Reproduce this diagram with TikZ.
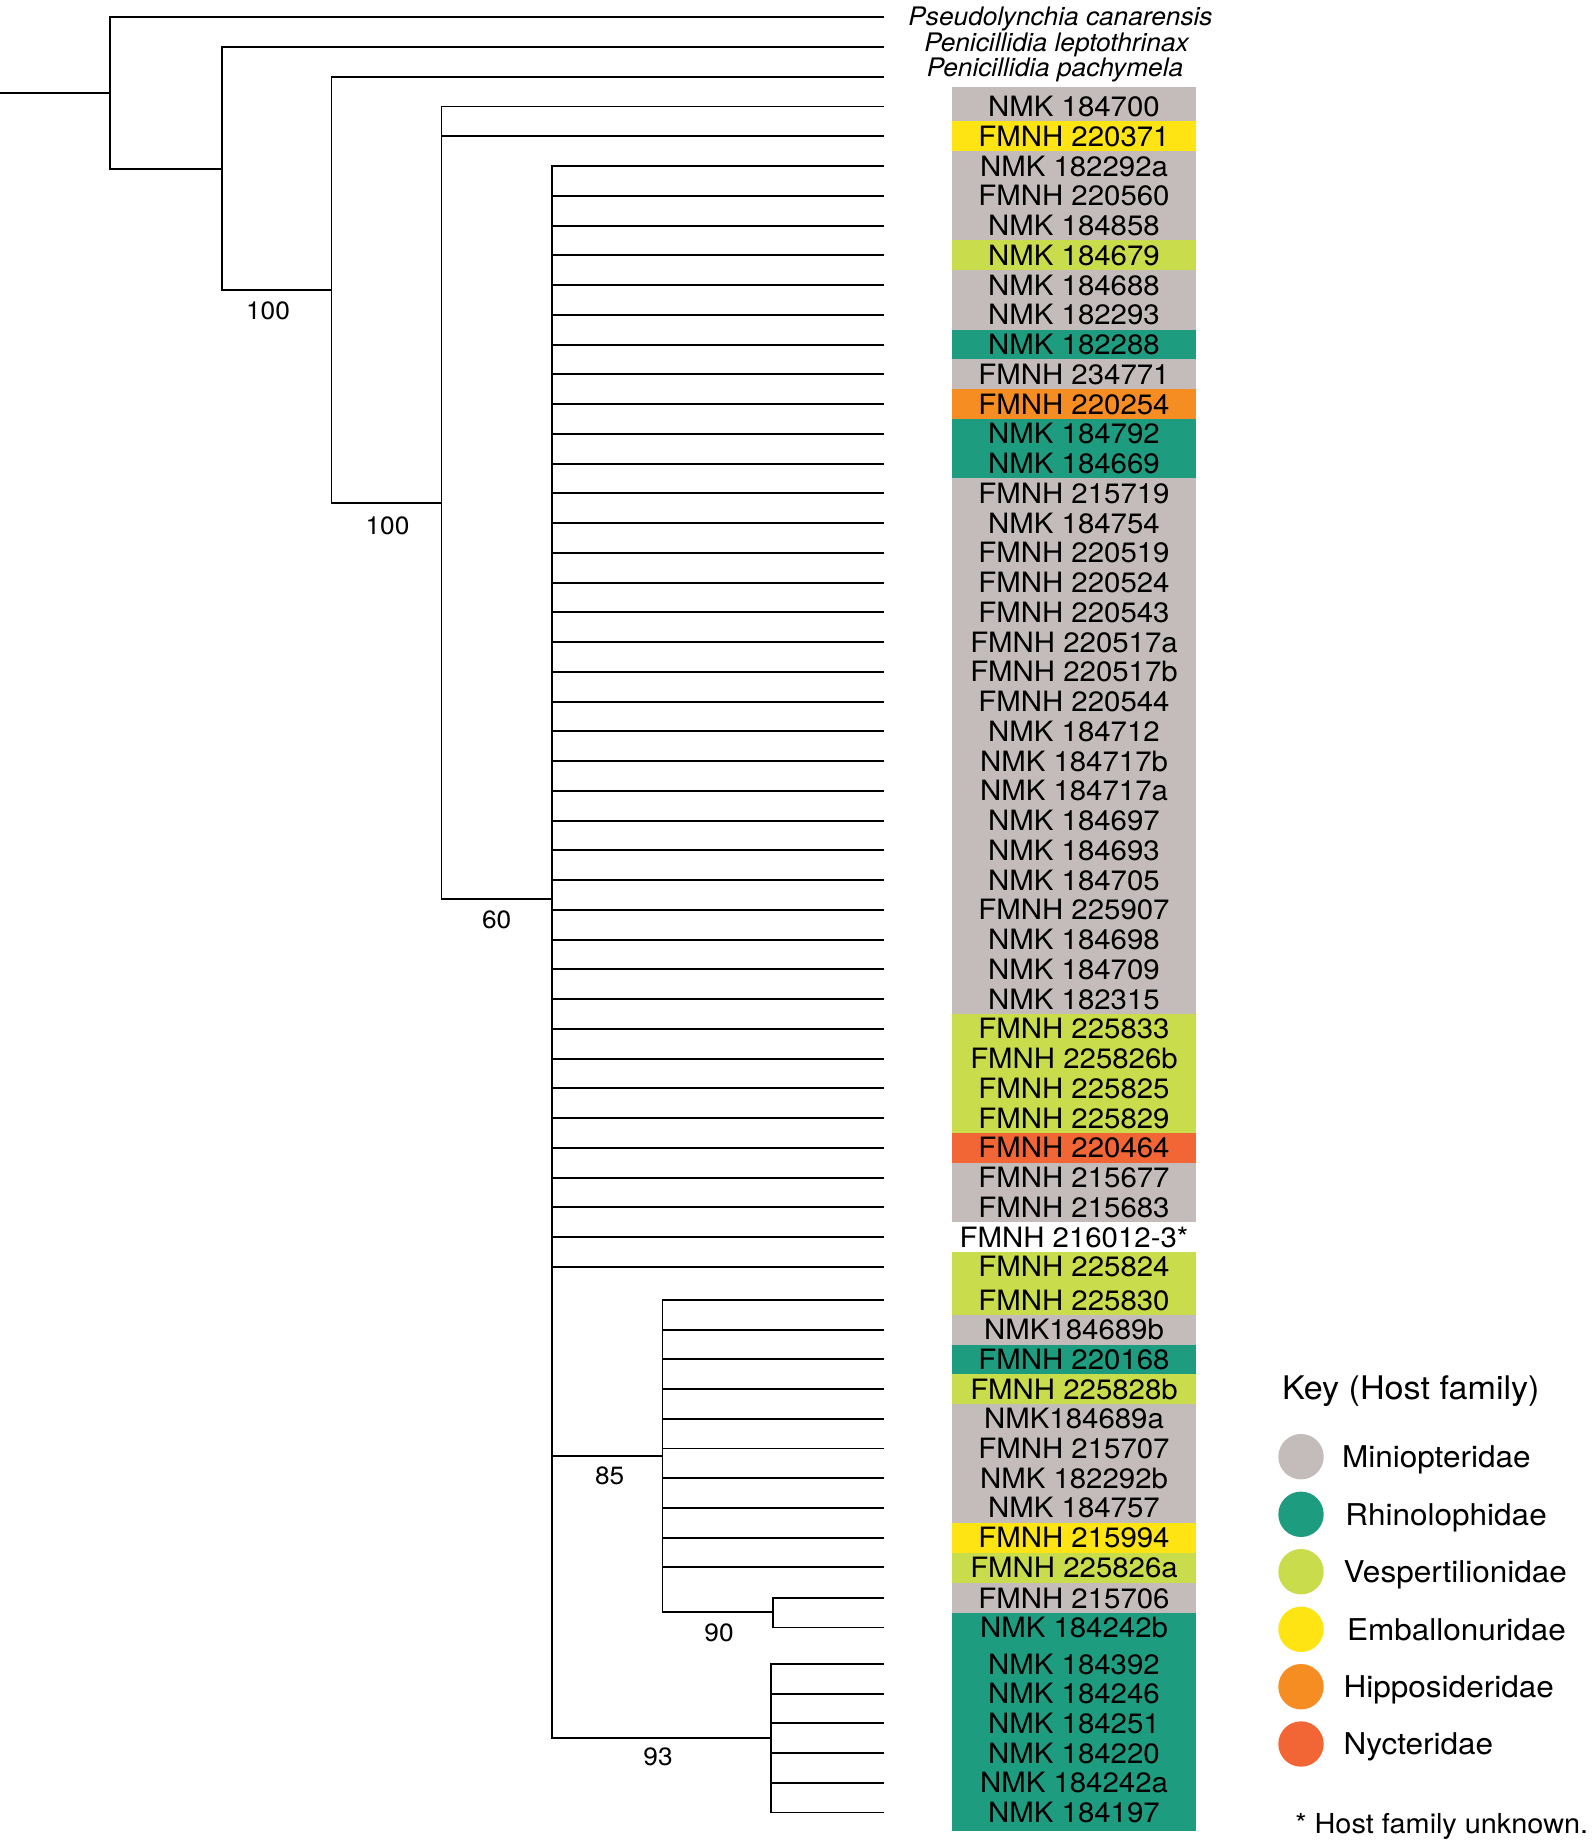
\documentclass[tikz,border=0pt]{standalone}
\usepackage{fontspec}
\setmainfont{TeX Gyre Heros}[FakeStretch=1.05]
\newfontfamily\spfont{TeX Gyre Heros}[FakeStretch=1.03]
\usetikzlibrary{calc}
\definecolor{cMin}{RGB}{195,188,186}
\definecolor{cRhi}{RGB}{29,156,128}
\definecolor{cVes}{RGB}{201,220,75}
\definecolor{cEmb}{RGB}{255,228,20}
\definecolor{cHip}{RGB}{246,141,34}
\definecolor{cNyc}{RGB}{242,102,54}
\begin{document}
\begin{tikzpicture}[x=0.5pt,y=-0.5pt,
  branch/.style={line width=0.95pt},
  tiplab/.style={anchor=base,inner sep=0pt,font=\fontsize{14}{16}\selectfont},
  splab/.style={anchor=base,inner sep=0pt,font=\spfont\itshape\fontsize{12.75}{14}\selectfont},
  boot/.style={anchor=center,inner sep=0pt,font=\fontsize{12.5}{14}\selectfont},
  keydot/.style={circle,inner sep=0pt,minimum size=22.7pt},
  keylab/.style={anchor=base west,inner sep=0pt,font=\fontsize{15}{17}\selectfont}]
\useasboundingbox (0,0) rectangle (1594,1841);
% colour boxes behind the tip labels
\fill[cMin] (952,87) rectangle (1196,121.4);
\fill[cEmb] (952,121.4) rectangle (1196,151.2);
\fill[cMin] (952,151.2) rectangle (1196,240.4);
\fill[cVes] (952,240.4) rectangle (1196,270.2);
\fill[cMin] (952,270.2) rectangle (1196,329.7);
\fill[cRhi] (952,329.7) rectangle (1196,359.4);
\fill[cMin] (952,359.4) rectangle (1196,389.2);
\fill[cHip] (952,389.2) rectangle (1196,418.9);
\fill[cRhi] (952,418.9) rectangle (1196,478.4);
\fill[cMin] (952,478.4) rectangle (1196,1013.9);
\fill[cVes] (952,1013.9) rectangle (1196,1132.9);
\fill[cNyc] (952,1132.9) rectangle (1196,1162.7);
\fill[cMin] (952,1162.7) rectangle (1196,1222.2);
\fill[cVes] (952,1251.9) rectangle (1196,1314.9);
\fill[cMin] (952,1314.9) rectangle (1196,1344.6);
\fill[cRhi] (952,1344.6) rectangle (1196,1374.3);
\fill[cVes] (952,1374.3) rectangle (1196,1404);
\fill[cMin] (952,1404) rectangle (1196,1522.8);
\fill[cEmb] (952,1522.8) rectangle (1196,1552.5);
\fill[cVes] (952,1552.5) rectangle (1196,1582.7);
\fill[cMin] (952,1582.7) rectangle (1196,1612.8);
\fill[cRhi] (952,1612.8) rectangle (1196,1831);
% outgroup tips
\coordinate (t1) at (884,17.3);
\coordinate (t2) at (884,47.3);
\coordinate (t3) at (884,77);
\node[splab] (l1) at (1060.5,26) {Pseudolynchia canarensis};
\node[splab] (l2) at (1056.5,51.7) {Penicillidia leptothrinax};
\node[splab] (l3) at (1055,77) {Penicillidia pachymela};
% ingroup tips
\foreach \i/\y/\t in {
 4/106.55/NMK 184700, 5/136.3/FMNH 220371, 6/166.05/NMK 182292a,
 7/195.8/FMNH 220560, 8/225.55/NMK 184858, 9/255.3/NMK 184679,
 10/285.05/NMK 184688, 11/314.8/NMK 182293, 12/344.55/NMK 182288,
 13/374.3/FMNH 234771, 14/404.05/FMNH 220254, 15/433.8/NMK 184792,
 16/463.55/NMK 184669, 17/493.3/FMNH 215719, 18/523.05/NMK 184754,
 19/552.8/FMNH 220519, 20/582.55/FMNH 220524, 21/612.3/FMNH 220543,
 22/642.05/FMNH 220517a, 23/671.8/FMNH 220517b, 24/701.55/FMNH 220544,
 25/731.3/NMK 184712, 26/761.05/NMK 184717b, 27/790.8/NMK 184717a,
 28/820.55/NMK 184697, 29/850.3/NMK 184693, 30/880.05/NMK 184705,
 31/909.8/FMNH 225907, 32/939.55/NMK 184698, 33/969.3/NMK 184709,
 34/999.05/NMK 182315, 35/1028.8/FMNH 225833, 36/1058.55/FMNH 225826b,
 37/1088.3/FMNH 225825, 38/1118.05/FMNH 225829, 39/1147.8/FMNH 220464,
 40/1177.55/FMNH 215677, 41/1207.3/FMNH 215683, 42/1237.05/FMNH 216012-3*,
 43/1266.8/FMNH 225824, 44/1300/FMNH 225830, 45/1329.7/NMK184689b,
 46/1359.4/FMNH 220168, 47/1389.1/FMNH 225828b, 48/1418.8/NMK184689a,
 49/1448.5/FMNH 215707, 50/1478.2/NMK 182292b, 51/1507.9/NMK 184757,
 52/1537.6/FMNH 215994, 53/1567.3/FMNH 225826a, 54/1598/FMNH 215706,
 55/1627.5/NMK 184242b, 56/1664/NMK 184392, 57/1693.7/NMK 184246,
 58/1723.4/NMK 184251, 59/1753.1/NMK 184220, 60/1782.8/NMK 184242a,
 61/1812.5/NMK 184197}{
  \coordinate (t\i) at (884,\y);
  \node[tiplab] (l\i) at (1074,\y+10) {\t};
}
% internal nodes
\coordinate (r0) at (0,93.3);
\coordinate (nA) at (110.4,93.3);
\coordinate (nB) at (221.6,168.7);
\coordinate (nC) at (331.5,290);
\coordinate (nD) at (441.5,503);
\coordinate (nE) at (552,899);
\coordinate (nF) at (662.5,1456);
\coordinate (nH) at (773,1612);
\coordinate (nG) at (771,1738);
% branches
\draw[branch] (r0) -- (nA);
\draw[branch] (nA) |- (t1);
\draw[branch] (nA) |- (nB);
\draw[branch] (nB) |- (t2);
\draw[branch] (nB) |- (nC);
\draw[branch] (nC) |- (t3);
\draw[branch] (nC) |- (nD);
\draw[branch] (nD) |- (t4);
\draw[branch] (nD) |- (t5);
\draw[branch] (nD) |- (nE);
\foreach \i in {6,...,43} \draw[branch] (nE) |- (t\i);
\draw[branch] (nE) |- (nF);
\draw[branch] (nE) |- (nG);
\foreach \i in {44,...,53} \draw[branch] (nF) |- (t\i);
\draw[branch] (nF) |- (nH);
\draw[branch] (nH) |- (t54);
\draw[branch] (nH) |- (t55);
\foreach \i in {56,...,61} \draw[branch] (nG) |- (t\i);
% support values
\node[boot] (sB) at (268,310.5) {100};
\node[boot] (sC) at (387.5,526) {100};
\node[boot] (sD) at (496.7,920) {60};
\node[boot] (sF) at (609.6,1476) {85};
\node[boot] (sH) at (719,1633) {90};
\node[boot] (sG) at (658,1757) {93};
% key
\node[anchor=base west,inner sep=0pt,font=\fontsize{16.25}{18}\selectfont] (keyt) at (1281.7,1399.3) {Key (Host family)};
\node[keydot,fill=cMin] (k1) at (1301,1456.7) {};
\node[keydot,fill=cRhi] (k2) at (1301,1514.3) {};
\node[keydot,fill=cVes] (k3) at (1301,1571.7) {};
\node[keydot,fill=cEmb] (k4) at (1301,1629.3) {};
\node[keydot,fill=cHip] (k5) at (1301,1686.7) {};
\node[keydot,fill=cNyc] (k6) at (1301,1744) {};
\node[keylab] (kl1) at (1341.7,1467.5) {Miniopteridae};
\node[keylab] (kl2) at (1345,1525.1) {Rhinolophidae};
\node[keylab] (kl3) at (1343.3,1582.5) {Vespertilionidae};
\node[keylab] (kl4) at (1346.7,1640.1) {Emballonuridae};
\node[keylab] (kl5) at (1343.3,1697.5) {Hipposideridae};
\node[keylab] (kl6) at (1343.3,1754.8) {Nycteridae};
\node[anchor=base west,inner sep=0pt,font=\fontsize{13.75}{16}\selectfont] (note) at (1295,1833) {* Host family unknown.};
\end{tikzpicture}
\end{document}
